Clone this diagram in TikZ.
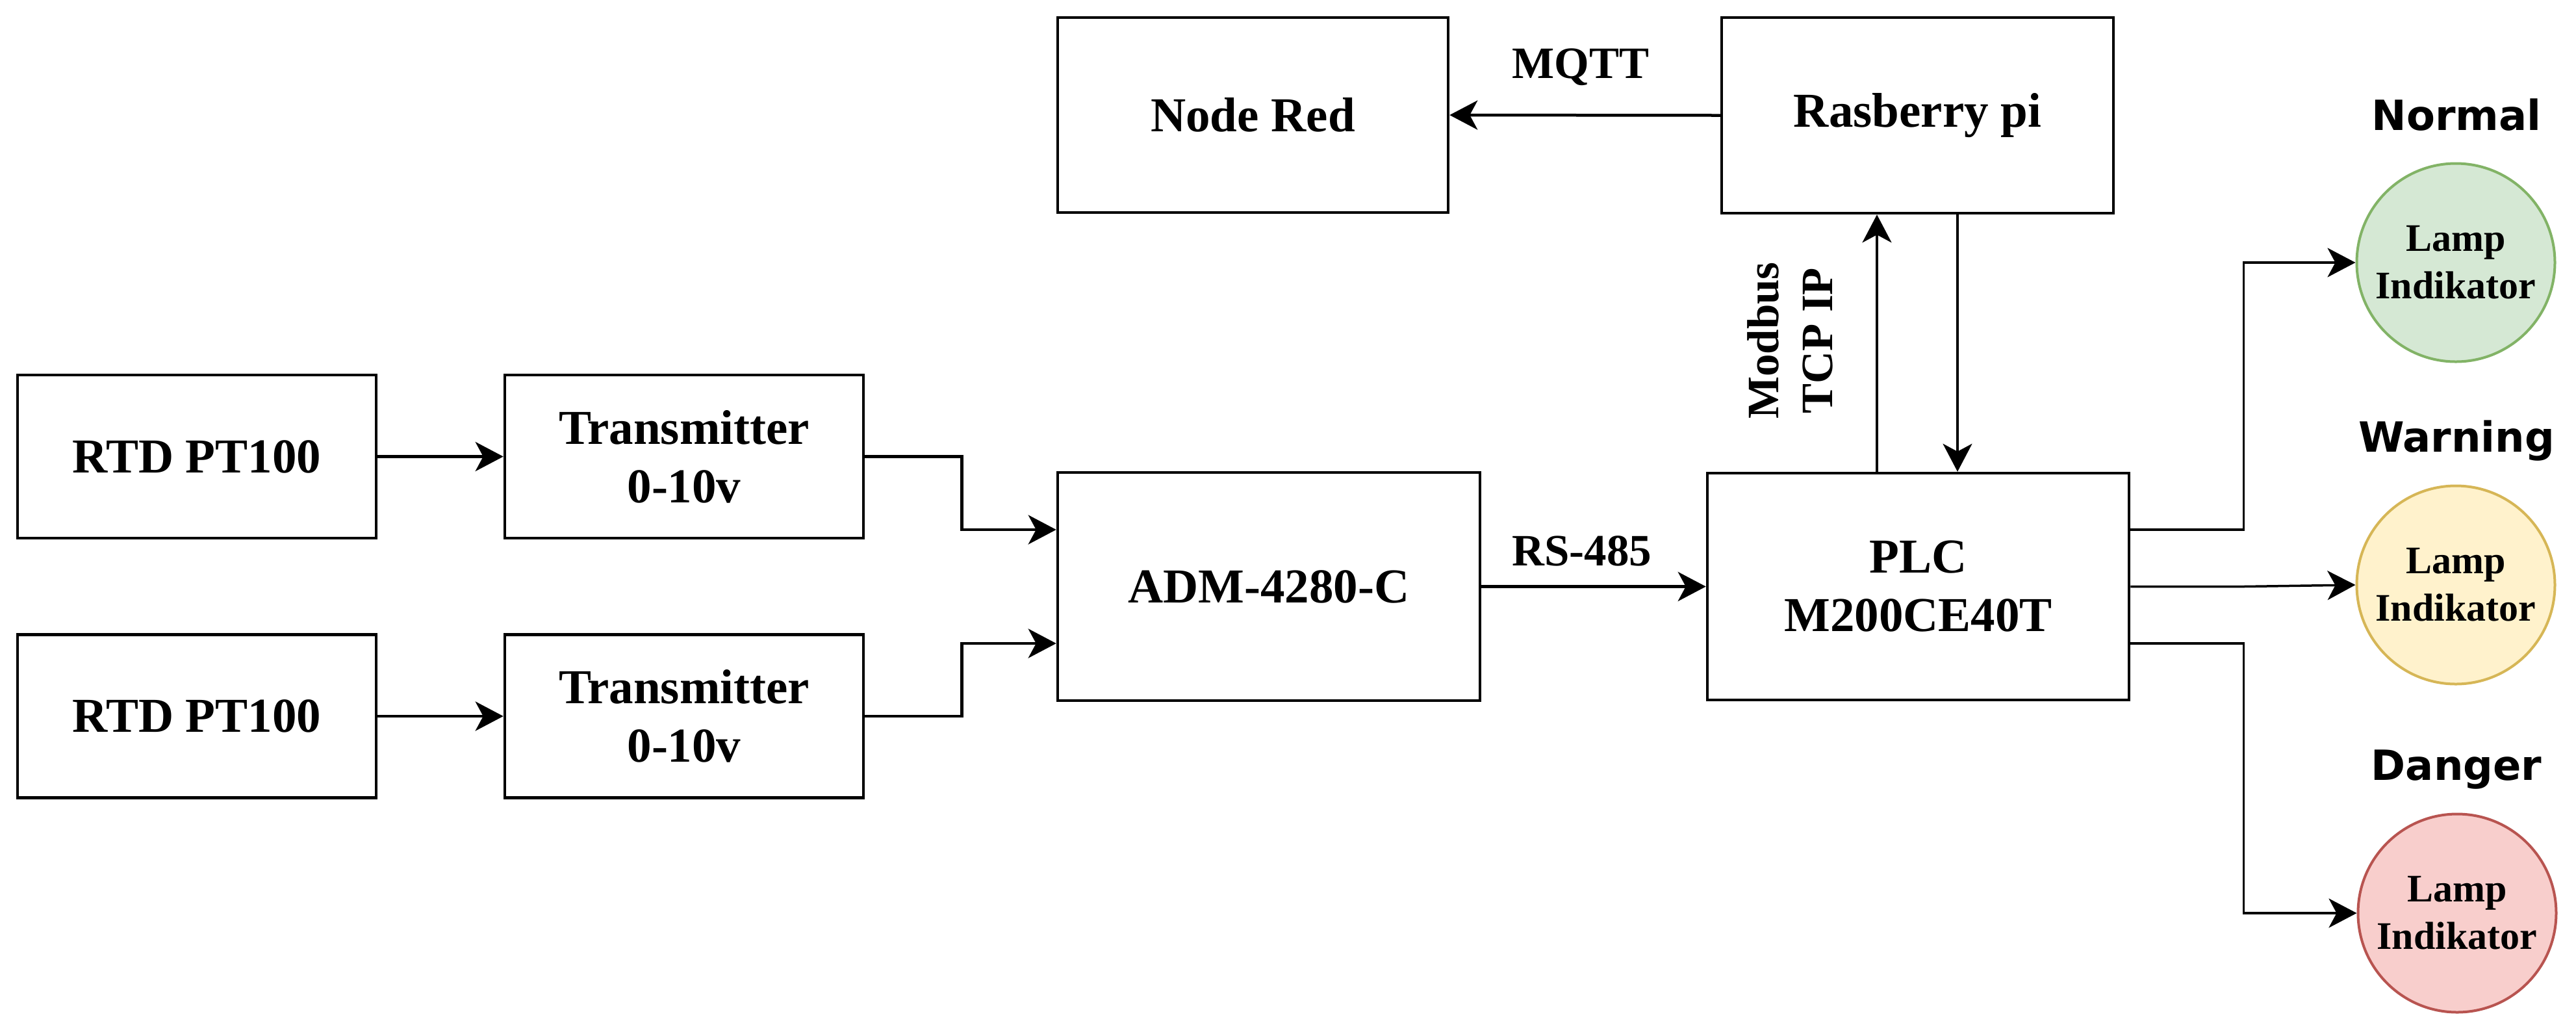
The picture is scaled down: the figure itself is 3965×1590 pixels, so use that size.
\documentclass[tikz,border=0pt]{standalone}
\usepackage{fontspec}
\setmainfont{Liberation Serif}
\newfontfamily\dvs{DejaVu Sans}
\usetikzlibrary{arrows.meta}
\definecolor{gfill}{HTML}{D5E8D4}
\definecolor{gline}{HTML}{82B366}
\definecolor{yfill}{HTML}{FFF2CC}
\definecolor{yline}{HTML}{D6B656}
\definecolor{rfill}{HTML}{F8CECC}
\definecolor{rline}{HTML}{B85450}
\begin{document}
\begin{tikzpicture}[x=0.2pt,y=-0.2pt,
  blk/.style={draw, line width=0.9pt, inner sep=0pt, align=center,
    font=\bfseries\fontsize{15}{18}\selectfont},
  lamp/.style={circle, line width=0.8pt, minimum size=61pt, inner sep=0pt, align=center,
    font=\bfseries\fontsize{12}{14.6}\selectfont},
  lbl/.style={font=\bfseries\fontsize{13.8}{16.6}\selectfont, align=center, inner sep=0pt},
  state/.style={font=\dvs\bfseries\fontsize{12.8}{15}\selectfont, anchor=base, inner sep=0pt},
  tip/.style={-{Stealth[length=8.6pt,width=9pt,inset=2.4pt]}},
  thick line/.style={line width=0.9pt},
  thin line/.style={line width=0.7pt}]
\fill[white] (0,0) rectangle (3965,1590);
\useasboundingbox (0,0) rectangle (3965,1590);

% blocks
\node[blk, minimum width=110.4pt, minimum height=50.2pt] (rtd1) at (303,702.5) {RTD PT100};
\node[blk, minimum width=110.4pt, minimum height=50.2pt] (rtd2) at (303,1102) {RTD PT100};
\node[blk, minimum width=110.4pt, minimum height=50.2pt] (tx1) at (1053,702.5) {Transmitter\\0-10v};
\node[blk, minimum width=110.4pt, minimum height=50.2pt] (tx2) at (1053,1102) {Transmitter\\0-10v};
\node[blk, minimum width=130pt, minimum height=70.2pt] (adm) at (1953,902.5) {ADM-4280-C};
\node[blk, minimum width=129.8pt, minimum height=69.8pt] (plc) at (2952.5,902.5) {PLC\\M200CE40T};
\node[blk, minimum width=120.2pt, minimum height=60pt] (nred) at (1928.5,177) {Node Red};
\node[blk, minimum width=120.6pt, minimum height=60.2pt] (rpi) at (2951.5,177.5) {Rasberry pi};

% lamps
\node[lamp, draw=gline, fill=gfill] (l1) at (3780,404) {Lamp\\Indikator};
\node[lamp, draw=yline, fill=yfill] (l2) at (3780,900) {Lamp\\Indikator};
\node[lamp, draw=rline, fill=rfill] (l3) at (3782,1405) {Lamp\\Indikator};

% state labels
\node[state] (sn) at (3781,200) {Normal};
\node[state] (sw) at (3781,695) {Warning};
\node[state] (sd) at (3781,1200) {Danger};

% connection labels
\node[lbl, anchor=base] (mqtt) at (2433,120) {MQTT};
\node[lbl, anchor=base] (rs) at (2435,870) {RS-485};
\node[lbl, rotate=90] (mod) at (2755,524) {Modbus\\TCP IP};

% connectors
\draw[thick line, tip] (rtd1.east) -- (tx1.west);
\draw[thick line, tip] (rtd2.east) -- (tx2.west);
\draw[thick line, tip] (tx1.east) -- ++(149,0) |- ([yshift=17.5pt]adm.west);
\draw[thick line, tip] (tx2.east) -- ++(149,0) |- ([yshift=-17.5pt]adm.west);
\draw[thick line, tip] (adm.east) -- (plc.west);
\draw[thick line, tip] (rpi.west) -- (nred.east);
\draw[thin line, tip] ([xshift=-12.7pt]plc.north) -- ([xshift=-12.7pt]plc.north |- rpi.south);
\draw[thin line, tip] ([xshift=12.1pt]plc.north |- rpi.south) -- ([xshift=12.1pt]plc.north);
\draw[thin line, tip] ([yshift=17.5pt]plc.east) -- ++(174,0) |- (l1.west);
\draw[thin line, tip] (plc.east) -- ++(174,0) -- (l2.west);
\draw[thin line, tip] ([yshift=-17.5pt]plc.east) -- ++(174,0) |- (l3.west);
\end{tikzpicture}
\end{document}
